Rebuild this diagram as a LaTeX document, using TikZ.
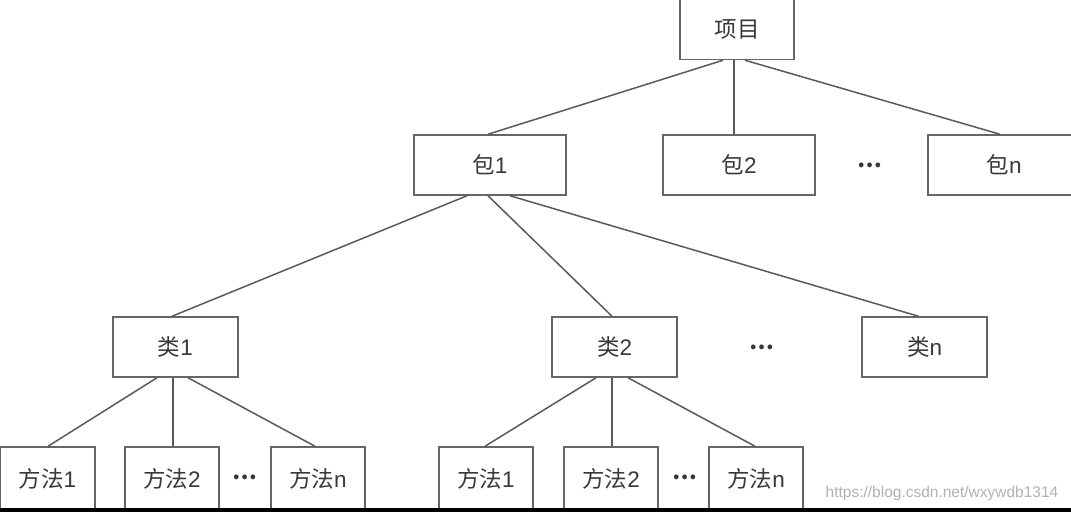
\documentclass[tikz,border=0pt]{standalone}
\usepackage{fontspec}
\setmainfont{Liberation Sans}
\newfontfamily\cjk{Noto Sans CJK SC}
\definecolor{boxc}{HTML}{666666}
\definecolor{linec}{HTML}{5A5A5A}
\definecolor{txt}{HTML}{383838}
\begin{document}
\begin{tikzpicture}[x=1pt,y=-1pt,
  box/.style={draw=boxc, line width=1.5pt, fill=white, inner sep=0pt,
    minimum height=60pt, text=txt, font=\fontsize{22.5}{26}\selectfont},
  mbox/.style={box, minimum width=94pt, minimum height=64pt},
  link/.style={draw=linec, line width=1.5pt},
  dotsn/.style={text=txt, inner sep=0pt, font=\cjk\bfseries\fontsize{22}{26}\selectfont},
  wmark/.style={text=black!30, inner sep=0pt, font=\fontsize{15.5}{18}\selectfont}]
\useasboundingbox (0,0) rectangle (1071,512);
\clip (0,0) rectangle (1071,512);
\fill[white] (0,0) rectangle (1071,512);

% level 0
\node[box, minimum width=114pt, minimum height=61pt] (xm) at (737,29) {{\cjk 项目}};
% level 1
\node[box, minimum width=152pt] (b1) at (490,165) {{\cjk 包}1};
\node[box, minimum width=152pt] (b2) at (739,165) {{\cjk 包}2};
\node[dotsn] (d1) at (870,165) {…};
\node[box, minimum width=152pt] (bn) at (1004,165) {{\cjk 包}n};
% level 2
\node[box, minimum width=125pt] (c1) at (175.5,347) {{\cjk 类}1};
\node[box, minimum width=125pt] (c2) at (614.5,347) {{\cjk 类}2};
\node[dotsn] (d2) at (762,347) {…};
\node[box, minimum width=125pt] (cn) at (924.5,347) {{\cjk 类}n};
% level 3
\node[mbox, minimum width=95pt] (m11) at (47.5,479) {{\cjk 方法}1};
\node[mbox] (m12) at (172,479) {{\cjk 方法}2};
\node[dotsn] (d3) at (245,477) {…};
\node[mbox] (m1n) at (318,479) {{\cjk 方法}n};
\node[mbox] (m21) at (486,479) {{\cjk 方法}1};
\node[mbox] (m22) at (611,479) {{\cjk 方法}2};
\node[dotsn] (d4) at (685,477) {…};
\node[mbox] (m2n) at (756,479) {{\cjk 方法}n};

% connectors
\draw[link] ([xshift=-14pt]xm.south) -- ([xshift=-2pt]b1.north);
\draw[link] ([xshift=-3pt]xm.south) -- ([xshift=-5pt]b2.north);
\draw[link] ([xshift=8pt]xm.south) -- ([xshift=-4pt]bn.north);

\draw[link] ([xshift=-23pt]b1.south) -- ([xshift=-3.5pt]c1.north);
\draw[link] ([xshift=-2pt]b1.south) -- ([xshift=-2.5pt]c2.north);
\draw[link] ([xshift=20pt]b1.south) -- ([xshift=-6pt]cn.north);

\draw[link] ([xshift=-18.5pt]c1.south) -- ([xshift=0.5pt]m11.north);
\draw[link] ([xshift=-2.5pt]c1.south) -- ([xshift=1pt]m12.north);
\draw[link] ([xshift=12.5pt]c1.south) -- ([xshift=-3pt]m1n.north);

\draw[link] ([xshift=-18.5pt]c2.south) -- ([xshift=-1pt]m21.north);
\draw[link] ([xshift=-2.5pt]c2.south) -- ([xshift=1pt]m22.north);
\draw[link] ([xshift=13.5pt]c2.south) -- ([xshift=-1pt]m2n.north);

% watermark
\node[wmark] (wm) at (942,493) {https://blog.csdn.net/wxywdb1314};

% black strip at bottom
\fill[black] (0,508) rectangle (1071,512);
\end{tikzpicture}
\end{document}
